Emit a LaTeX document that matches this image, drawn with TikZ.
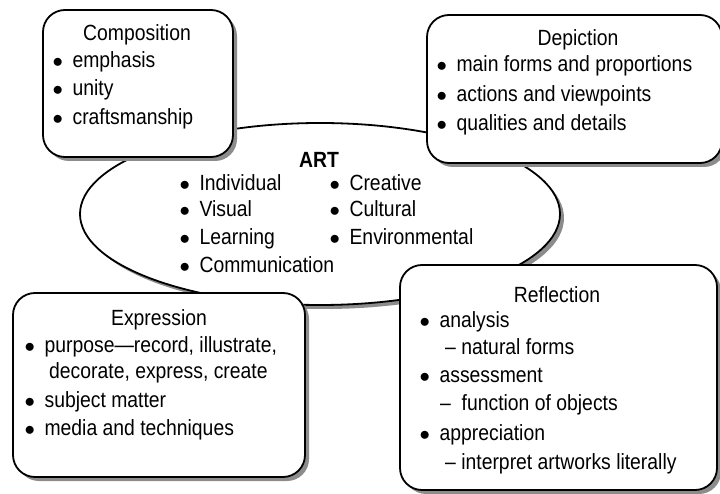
\documentclass[tikz,border=0pt]{standalone}
\usepackage{fontspec}
\setmainfont{Liberation Sans}[FakeStretch=0.88]
\usepackage{tikz}
\usetikzlibrary{shapes}
\usetikzlibrary{shadows}
\tikzstyle{card}=[shape=rectangle,draw,line width=1.8pt,rounded corners=22pt,fill=white,inner sep=0pt,drop shadow={shadow xshift=4pt,shadow yshift=-4pt,fill=black!45,opacity=1}]
\tikzstyle{oval}=[shape=ellipse,draw,line width=1.8pt,fill=white,inner sep=0pt,drop shadow={shadow xshift=4pt,shadow yshift=-4pt,fill=black!45,opacity=1}]
\tikzstyle{ttl}=[font=\fontsize{22pt}{26pt}\selectfont,inner sep=0pt]
\tikzstyle{lst}=[ttl,anchor=mid west]
\newcommand{\bul}{$\bullet$\hspace{9.5pt}}
\newcommand{\dsh}{--\ }

\begin{document}
\begin{tikzpicture}[x=1pt,y=-1pt]
		\path[use as bounding box,fill=white] (0,0) rectangle (720,494);
		\node[oval,minimum width=480pt,minimum height=182pt] (art) at (320,214) {};
		\node[card,minimum width=190pt,minimum height=147pt] (comp) at (138,83.5) {};
		\node[card,minimum width=295pt,minimum height=148pt] (depi) at (574.5,89) {};
		\node[card,minimum width=292pt,minimum height=184pt] (expr) at (159,385) {};
		\node[card,minimum width=317pt,minimum height=225pt] (refl) at (558.5,377.5) {};
%		
		\node[ttl,font=\fontsize{22pt}{26pt}\selectfont\bfseries] (artT) at (319,160) {ART};
		\node[lst] (art1) at (179.5,188) {\bul Individual};
		\node[lst] (art2) at (179.5,214) {\bul Visual};
		\node[lst] (art3) at (179.5,242) {\bul Learning};
		\node[lst] (art4) at (179.5,270) {\bul Communication};
		\node[lst] (art5) at (329.5,188) {\bul Creative};
		\node[lst] (art6) at (329.5,214) {\bul Cultural};
		\node[lst] (art7) at (329.5,242) {\bul Environmental};
%		
		\node[ttl] (compT) at (137,35) {Composition};
		\node[lst] (comp1) at (52.5,65) {\bul emphasis};
		\node[lst] (comp2) at (52.5,93) {\bul unity};
		\node[lst] (comp3) at (52.5,122) {\bul craftsmanship};
%		
		\node[ttl] (depiT) at (578,40) {Depiction};
		\node[lst] (depi1) at (436.5,69) {\bul main forms and proportions};
		\node[lst] (depi2) at (436.5,99) {\bul actions and viewpoints};
		\node[lst] (depi3) at (436.5,128) {\bul qualities and details};
%		
		\node[ttl] (exprT) at (159,320) {Expression};
		\node[lst] (expr1) at (24.5,350) {\bul purpose---record, illustrate,};
		\node[lst] (expr1b) at (49,376) {decorate, express, create};
		\node[lst] (expr2) at (24.5,405) {\bul subject matter};
		\node[lst] (expr3) at (24.5,433) {\bul media and techniques};
%		
		\node[ttl] (reflT) at (557,295) {Reflection};
		\node[lst] (refl1) at (419.5,325) {\bul analysis};
		\node[lst] (refl1b) at (445,352) {\dsh natural forms};
		\node[lst] (refl2) at (419.5,380) {\bul assessment};
		\node[lst] (refl2b) at (440,408) {\dsh\ function of objects};
		\node[lst] (refl3) at (419.5,438) {\bul appreciation};
		\node[lst] (refl3b) at (445,467) {\dsh interpret artworks literally};
\end{tikzpicture}
\end{document}
